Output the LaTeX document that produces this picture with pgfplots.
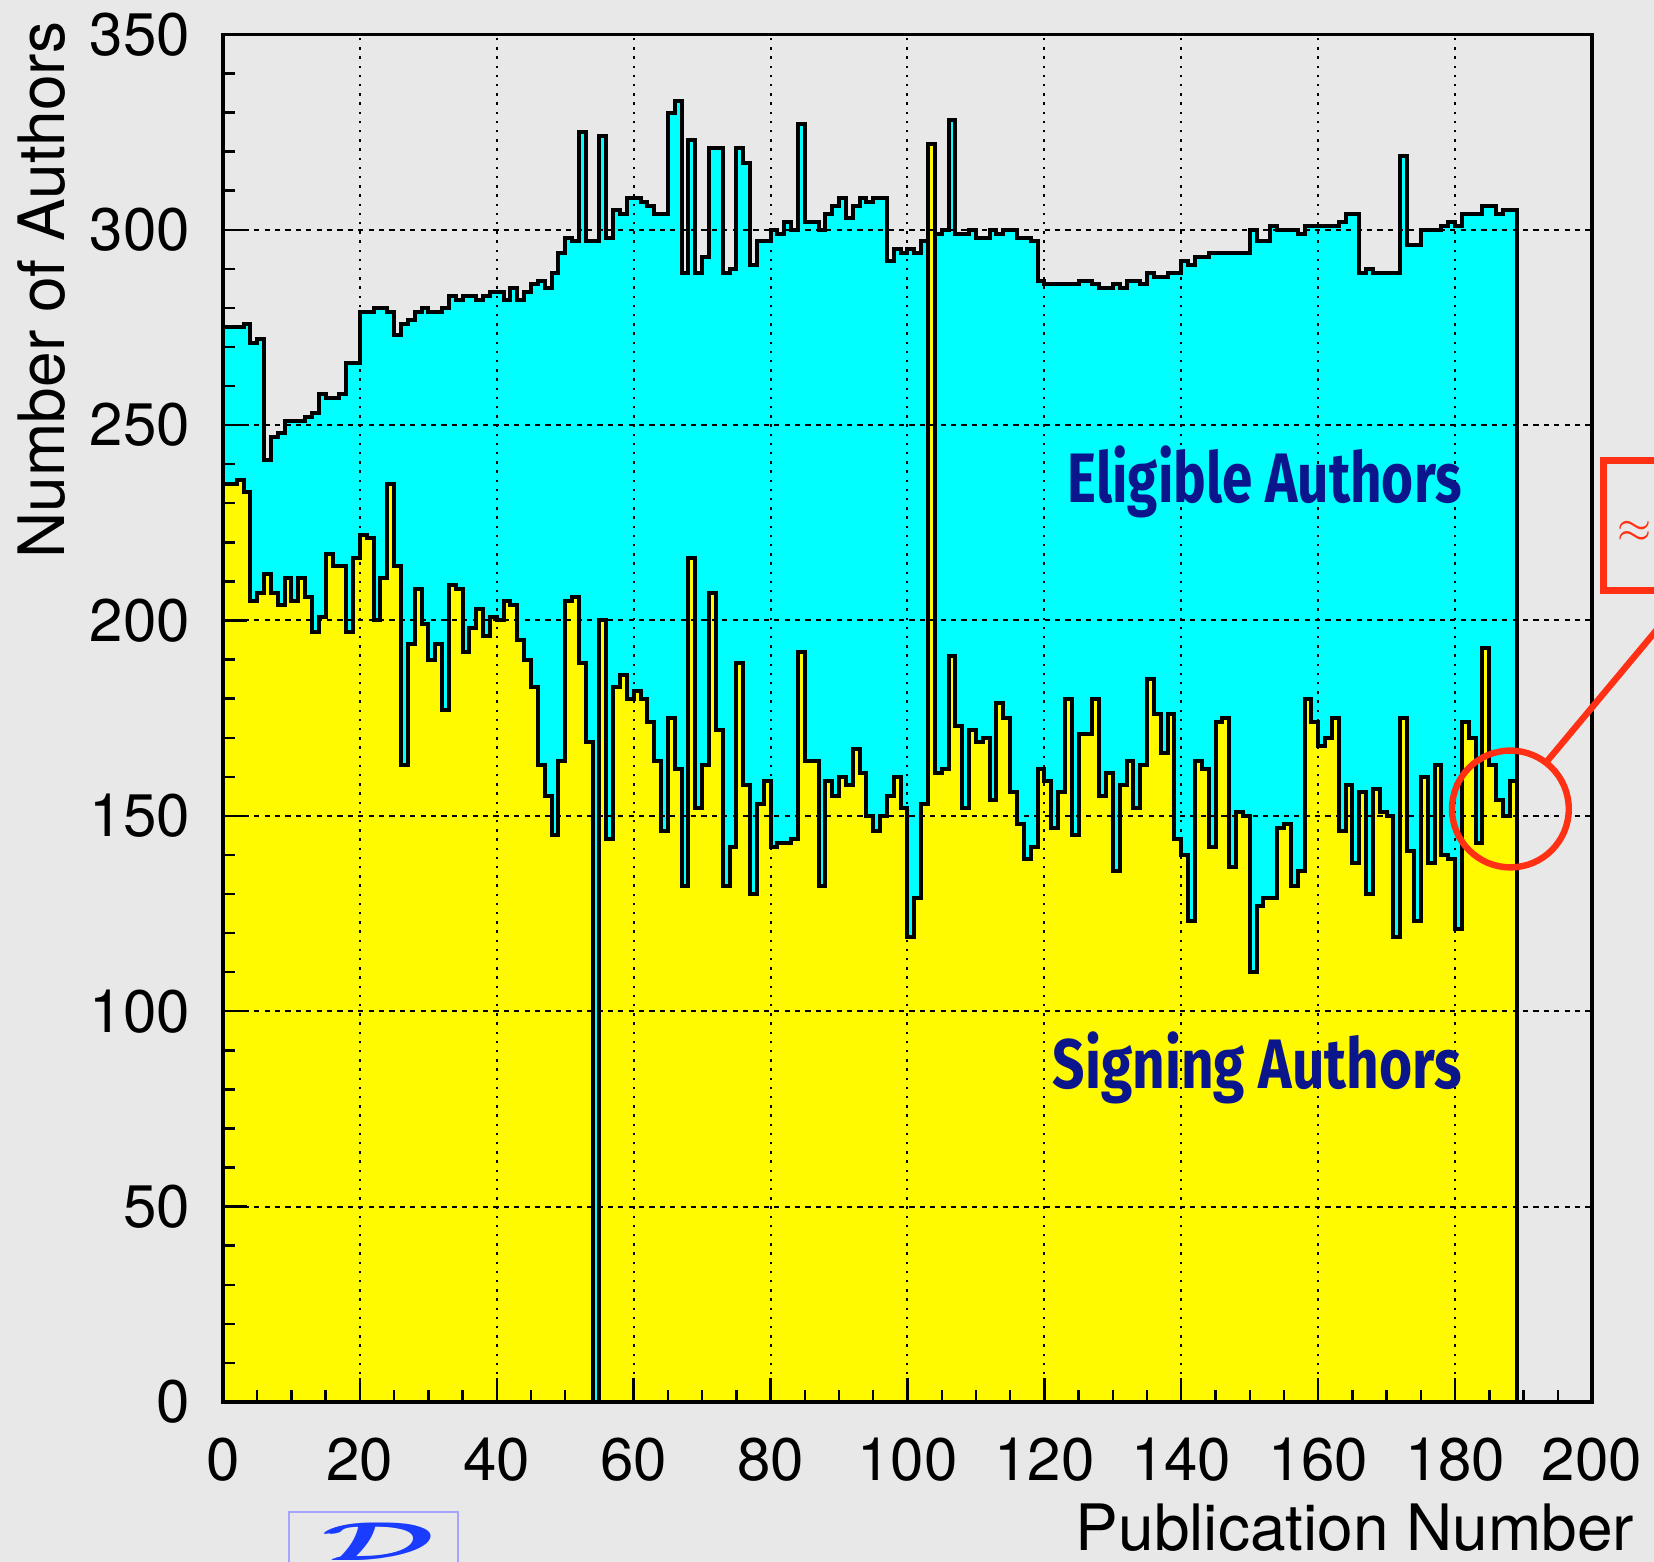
\documentclass[border=0pt]{standalone}
\usepackage{pgfplots}
\pgfplotsset{compat=1.18}
\usepackage{pgfplotstable}
\usepackage{graphicx}
\usepackage{amsmath}
\usepackage{fontspec}
\setmainfont{TeX Gyre Heros}
\newfontfamily\lblfont{Fira Sans}
\definecolor{bg}{RGB}{232,232,232}
\definecolor{navy}{RGB}{12,22,140}
\definecolor{annred}{RGB}{255,48,20}
\definecolor{dzero}{RGB}{25,60,255}
\definecolor{logobox}{RGB}{165,165,255}
\definecolor{histcyan}{RGB}{0,255,255}
\definecolor{histyellow}{RGB}{255,250,0}

\pgfplotstableread{
x E S
0 275 235
1 275 235
2 275 236
3 276 233
4 271 205
5 272 207
6 241 212
7 247 207
8 248 204
9 251 211
10 251 205
11 251 211
12 252 206
13 253 197
14 258 201
15 257 217
16 257 214
17 258 214
18 266 197
19 266 216
20 279 222
21 279 221
22 280 200
23 280 211
24 279 235
25 273 214
26 276 163
27 277 194
28 279 208
29 280 199
30 279 190
31 279 194
32 280 177
33 283 209
34 282 208
35 283 192
36 283 198
37 282 203
38 283 196
39 284 201
40 284 200
41 282 205
42 285 204
43 282 195
44 284 190
45 286 183
46 287 163
47 285 155
48 289 145
49 294 164
50 298 205
51 297 206
52 325 189
53 297 169
54 297 0
55 324 200
56 298 144
57 305 183
58 304 186
59 308 180
60 308 182
61 307 180
62 306 174
63 304 164
64 304 146
65 330 175
66 333 162
67 289 132
68 323 216
69 289 152
70 293 163
71 321 207
72 321 172
73 289 132
74 290 142
75 321 189
76 317 158
77 291 130
78 297 153
79 297 159
80 300 142
81 299 143
82 302 143
83 300 144
84 327 192
85 302 164
86 302 164
87 300 132
88 304 159
89 306 155
90 308 160
91 303 158
92 306 167
93 308 161
94 307 150
95 308 146
96 308 150
97 292 155
98 295 160
99 294 152
100 295 119
101 294 129
102 297 153
103 322 322
104 299 161
105 300 162
106 328 191
107 299 173
108 299 152
109 300 172
110 298 169
111 298 170
112 300 154
113 299 179
114 300 175
115 300 156
116 298 148
117 298 139
118 297 142
119 287 162
120 286 159
121 286 147
122 286 156
123 286 180
124 286 145
125 287 171
126 287 171
127 286 180
128 285 155
129 285 161
130 286 136
131 285 158
132 287 164
133 287 152
134 286 163
135 289 185
136 288 176
137 288 166
138 289 176
139 289 144
140 292 140
141 291 123
142 293 164
143 293 162
144 294 142
145 294 174
146 294 175
147 294 137
148 294 151
149 294 150
150 300 110
151 297 127
152 297 129
153 301 129
154 300 147
155 300 148
156 300 132
157 299 136
158 301 180
159 301 174
160 301 168
161 301 170
162 301 175
163 302 146
164 304 158
165 304 138
166 289 156
167 290 130
168 289 157
169 289 151
170 289 150
171 289 119
172 319 175
173 296 141
174 296 123
175 300 160
176 300 138
177 300 163
178 301 140
179 302 139
180 301 121
181 304 174
182 304 170
183 304 143
184 306 193
185 306 163
186 304 154
187 305 150
188 305 159
189 305 159
}\authors

\begin{document}
\begin{tikzpicture}
\useasboundingbox (0,0) rectangle (413.5pt,390.5pt);
\clip (0,0) rectangle (413.5pt,390.5pt);
\fill[bg] (0,0) rectangle (413.5pt,390.5pt);
\begin{axis}[
  at={(55.75pt,40pt)}, anchor=south west,
  scale only axis, width=342.25pt, height=341.9pt,
  xmin=0, xmax=200, ymin=0, ymax=350,
  axis on top,
  xtick={0,20,...,200}, ytick={0,50,...,350},
  minor x tick num=3, minor y tick num=4,
  tick align=inside, tick pos=left,
  major tick length=6pt, minor tick length=3pt,
  tick style={black, line width=0.6pt},
  axis line style={black, line width=0.8pt},
  grid=major,
  x grid style={black, line width=0.5pt, dash pattern=on 0.6pt off 1.7pt},
  y grid style={black, line width=0.5pt, dash pattern=on 1.3pt off 1.3pt},
  /pgf/number format/assume math mode=true,
  tick label style={font=\fontsize{15}{18}\selectfont},
  xticklabel style={yshift=-5.5pt},
  yticklabel style={xshift=-4.75pt},
]
\addplot[const plot mark left, fill=histcyan, draw=black, line width=1pt] table[x=x,y=E]{\authors} \closedcycle;
\addplot[const plot mark left, fill=histyellow, draw=black, line width=1pt] table[x=x,y=S]{\authors} \closedcycle;
\end{axis}
% axis titles
\node[rotate=90, anchor=base east, inner sep=0pt, font=\fontsize{16}{19}\selectfont] at (16.25pt,385.25pt) {Number of Authors};
\node[anchor=base east, inner sep=0pt, font=\fontsize{16}{19}\selectfont] at (408.75pt,2.75pt) {Publication Number};
% series labels
\node[anchor=base west, inner sep=0pt, text=navy] at (266.75pt,264.75pt) {\resizebox{98.5pt}{\height}{\lblfont\bfseries\fontsize{17.5}{20}\selectfont Eligible Authors}};
\node[anchor=base west, inner sep=0pt, text=navy] at (263pt,118.25pt) {\resizebox{102.25pt}{\height}{\lblfont\bfseries\fontsize{17.5}{20}\selectfont Signing Authors}};
% red annotation
\draw[annred, line width=1.6pt] (377.6pt,188.25pt) circle (14.6pt);
\draw[annred, line width=1.6pt] (386.7pt,200.1pt) -- (420pt,240pt);
\draw[annred, line width=1.7pt] (425pt,275.3pt) -- (400.8pt,275.3pt) -- (400.8pt,242.8pt) -- (425pt,242.8pt);
\node[anchor=east, inner sep=0pt, text=annred, font=\fontsize{11}{13}\selectfont] at (413pt,257.5pt) {$\approx$};
% logo
\draw[logobox, line width=0.5pt] (72.25pt,-2pt) rectangle (114.5pt,12.5pt);
\node[inner sep=0pt, text=dzero] at (95.5pt,5pt) {\resizebox{27pt}{9.5pt}{$\pmb{\mathcal{D}}$}};
\end{tikzpicture}
\end{document}
